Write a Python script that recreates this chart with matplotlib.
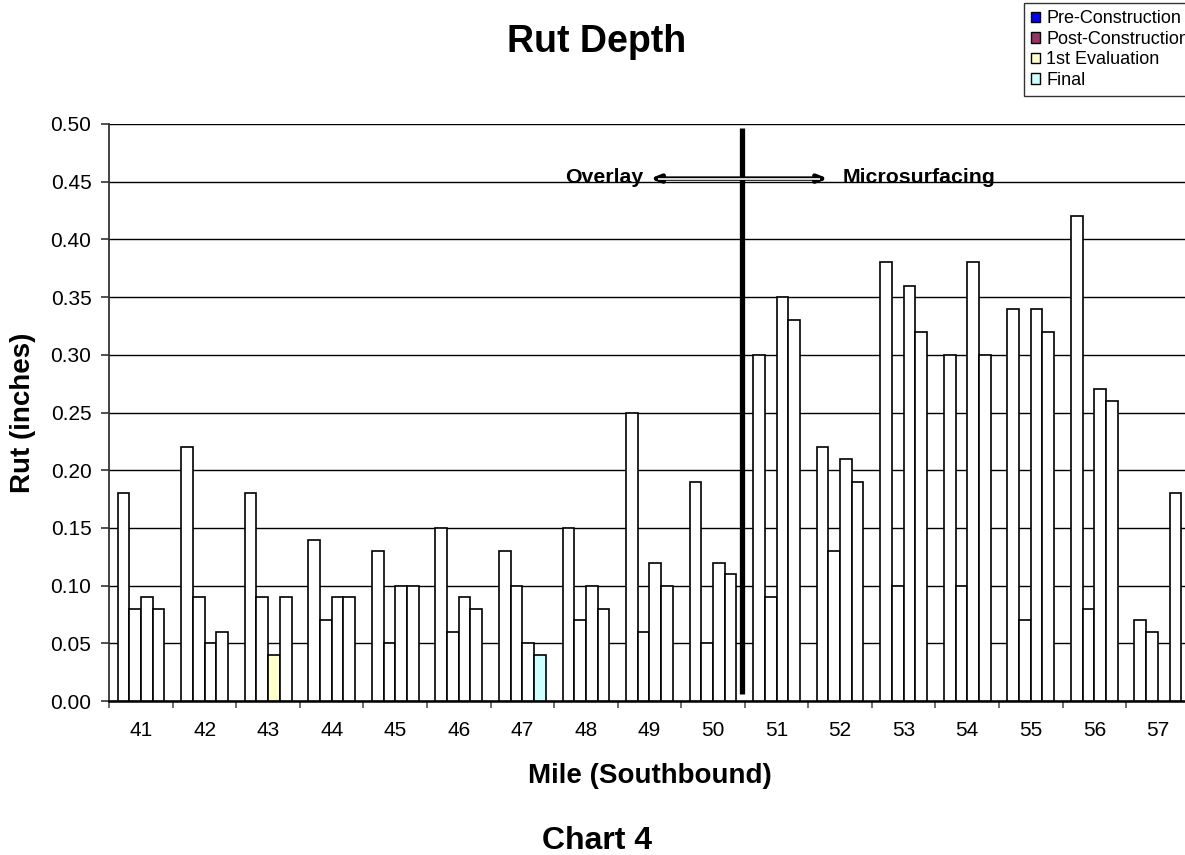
"""Rut depth by mile, southbound (Chart 4)."""
import matplotlib

matplotlib.use("Agg")
import matplotlib.pyplot as plt
import numpy as np
from matplotlib.patches import Patch

plt.rcParams["font.family"] = ["Liberation Sans", "DejaVu Sans"]

MILES = [41, 42, 43, 44, 45, 46, 47, 48, 49, 50, 51, 52, 53, 54, 55, 56, 57]
SERIES = ["Pre-Construction", "Post-Construction", "1st Evaluation", "Final"]
PRE = [0.18, 0.22, 0.18, 0.14, 0.13, 0.15, 0.13, 0.15, 0.25, 0.19,
       0.30, 0.22, 0.38, 0.30, 0.34, 0.42, 0.07]
POST = [0.08, 0.09, 0.09, 0.07, 0.05, 0.06, 0.10, 0.07, 0.06, 0.05,
        0.09, 0.13, 0.10, 0.10, 0.07, 0.08, 0.06]
FIRST_EVAL = [0.09, 0.05, 0.04, 0.09, 0.10, 0.09, 0.05, 0.10, 0.12, 0.12,
              0.35, 0.21, 0.36, 0.38, 0.34, 0.27, 0.00]
FINAL = [0.08, 0.06, 0.09, 0.09, 0.10, 0.08, 0.04, 0.08, 0.10, 0.11,
         0.33, 0.19, 0.32, 0.30, 0.32, 0.26, 0.18]

LEGEND_COLORS = ["#0000FF", "#993366", "#FFFFCC", "#CCFFFF"]
# only these two bars kept their fill in the original; the rest render white
FILLED = {("1st Evaluation", 43): "#FFFFCC", ("Final", 47): "#CCFFFF"}


def main() -> None:
    fig = plt.figure(figsize=(11.85, 8.55), dpi=100)
    ax = fig.add_axes([0.0922, 0.180, 0.9117, 0.675])

    x = np.arange(len(MILES), dtype=np.float64)
    width = 0.184
    for index, (name, values) in enumerate(zip(SERIES, (PRE, POST, FIRST_EVAL, FINAL))):
        colors = [FILLED.get((name, mile), "white") for mile in MILES]
        for xi, val, col in zip(x, values, colors):
            if val <= 0:
                continue
            ax.bar(xi + (index - 1.5) * width, val, width=width, color=col,
                   edgecolor="black", linewidth=1.2, zorder=3)

    ax.set_xlim(-0.5, len(MILES) - 0.5)
    ax.set_ylim(0, 0.50)
    ax.set_yticks(np.arange(0, 0.501, 0.05))
    ax.yaxis.set_major_formatter(matplotlib.ticker.FormatStrFormatter("%.2f"))
    ax.set_xticks(x, [str(m) for m in MILES])
    ax.set_xticks(np.arange(-0.5, len(MILES)), minor=True)
    ax.tick_params(axis="x", which="major", length=0, labelsize=15, pad=14.4)
    ax.tick_params(axis="x", which="minor", length=5, color="#555555", width=1.2)
    ax.tick_params(axis="y", labelsize=15, length=5.8, color="#333333", width=1.2, pad=7)
    ax.grid(axis="y", color="black", linewidth=1.0, zorder=0)
    for side in ("top", "right"):
        ax.spines[side].set_visible(False)
    ax.spines["left"].set_color("#333333")
    ax.spines["left"].set_linewidth(1.3)
    ax.spines["bottom"].set_color("black")
    ax.spines["bottom"].set_linewidth(1.8)
    ax.axhline(0.50, color="#999999", linewidth=1.5, zorder=1)

    # construction boundary and arrows
    ax.plot([9.45, 9.45], [0.006, 0.4965], color="black", linewidth=3.8, zorder=5,
            solid_capstyle="butt")
    for tip in (8.01, 10.81):
        ax.annotate("", xy=(tip, 0.4527), xytext=(9.45, 0.4527),
                    arrowprops=dict(arrowstyle="-|>,head_length=0.55,head_width=0.22",
                                    color="black", lw=3.2, shrinkA=0, shrinkB=0),
                    zorder=6)
        ax.plot([9.45, tip - (0.13 if tip > 9.45 else -0.13)], [0.4527, 0.4527],
                color="white", linewidth=1.2, zorder=7, solid_capstyle="butt")
    ax.text(7.91, 0.4489, "Overlay", ha="right", va="baseline", fontsize=15.3,
            fontweight="bold", zorder=8)
    ax.text(11.04, 0.4489, "Microsurfacing", ha="left", va="baseline", fontsize=15.3,
            fontweight="bold", zorder=8)

    fig.text(0.0198, 0.5175, "Rut (inches)", rotation=90, ha="center", va="center",
             fontsize=20, fontweight="bold")
    fig.text(0.548, 0.0842, "Mile (Southbound)", ha="center", va="baseline",
             fontsize=20, fontweight="bold")
    fig.text(0.5034, 0.939, "Rut Depth", ha="center", va="baseline", fontsize=27,
             fontweight="bold")
    fig.text(0.504, 0.0065, "Chart 4", ha="center", va="baseline", fontsize=23,
             fontweight="bold")

    handles = [Patch(facecolor=c, edgecolor="black", linewidth=1.0) for c in LEGEND_COLORS]
    legend = fig.legend(handles, SERIES, loc="upper left", bbox_to_anchor=(0.8640, 0.9965),
                        fontsize=13, frameon=True, fancybox=False, handlelength=0.5,
                        handleheight=0.5, handletextpad=0.35, borderpad=0.4,
                        labelspacing=0.2, borderaxespad=0)
    legend.get_frame().set_edgecolor("black")
    legend.get_frame().set_linewidth(1.0)

    fig.savefig("out.png", dpi=100)
    plt.close(fig)


if __name__ == "__main__":
    main()
